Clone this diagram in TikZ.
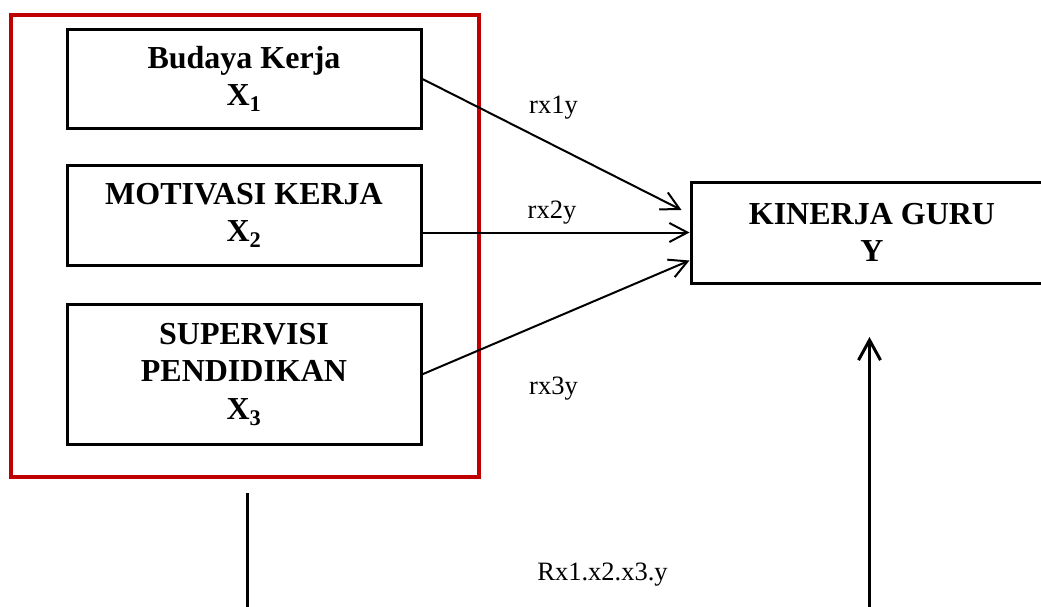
\documentclass[tikz,border=0pt]{standalone}
\usepackage{fontspec}
\setmainfont{Liberation Serif}
\usetikzlibrary{arrows.meta,calc}
\definecolor{framered}{HTML}{C00000}
\begin{document}
\begin{tikzpicture}[x=1pt,y=-1pt,
  varbox/.style={draw,line width=3pt,rectangle,inner sep=0pt,align=center,
    font=\fontsize{32}{37.5}\selectfont\bfseries},
  group/.style={draw=framered,line width=4pt,rectangle,inner sep=0pt},
  link/.style={line width=2pt,-{Straight Barb[length=18pt,width=19pt]}},
  joint/.style={line width=3pt},
  coef/.style={font=\fontsize{26.5}{30}\selectfont,anchor=base,inner sep=0pt}]
\useasboundingbox (0,0) rectangle (1041,606);

% independent variables, grouped in a red frame
\node[group,minimum width=468pt,minimum height=462pt] (grp) at (245,246) {};
\node[varbox,minimum width=354pt,minimum height=99pt] (b1) at (244,79)
  {Budaya Kerja\\X\textsubscript{1}};
\node[varbox,minimum width=354pt,minimum height=100pt] (b2) at (244,215.5)
  {MOTIVASI KERJA\\X\textsubscript{2}};
\node[varbox,minimum width=354pt,minimum height=139.5pt] (b3) at (244,374.25)
  {SUPERVISI\\PENDIDIKAN\\X\textsubscript{3}};

% dependent variable
\node[varbox,minimum width=362pt,minimum height=101pt] (y) at (872,232.5)
  {KINERJA GURU\\Y};

% partial paths
\draw[link] (b1.east) -- ($(y.west)+(-8,-22.5)$);
\draw[link] (b2.east |- y.west) -- (y.west);
\draw[link] (b3.east) -- ($(y.west)+(0,28)$);

\node[coef] (l1) at (553.5,113) {rx1y};
\node[coef] (l2) at (552,218) {rx2y};
\node[coef] (l3) at (553.5,394) {rx3y};

% joint path
\coordinate (js) at (247,493);
\coordinate (je) at (247,612);
\coordinate (ks) at (869.5,612);
\coordinate (ke) at (869.5,337);
\draw[joint] (js) -- (je);
\draw[joint,-{Straight Barb[length=20pt,width=22pt]}] (ks) -- (ke);
\node[coef] (l4) at (602.5,580) {Rx1.x2.x3.y};
\end{tikzpicture}
\end{document}
